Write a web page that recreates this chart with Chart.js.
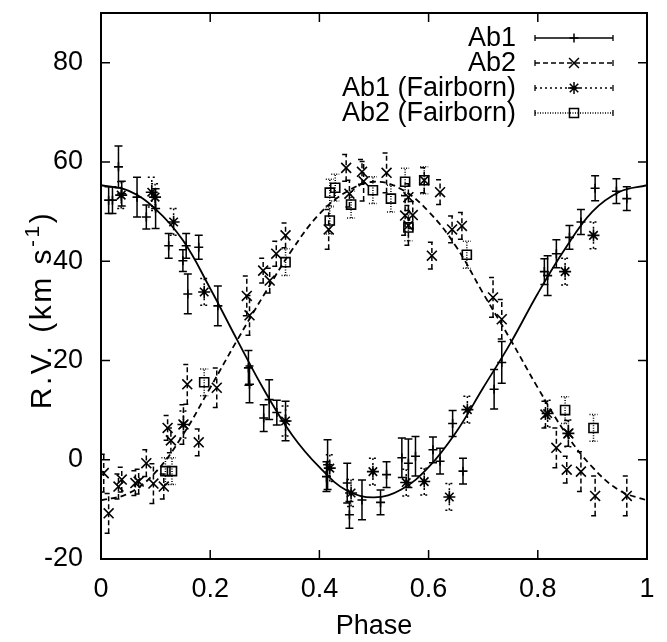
<!DOCTYPE html>
<html>
<head>
<meta charset="utf-8">
<script src="https://cdn.jsdelivr.net/npm/chart.js@4.4.1/dist/chart.umd.min.js"></script>
<style>
  html, body { margin:0; padding:0; background:#fff; }
  #wrap { width:667px; height:642px; }
</style>
</head>
<body>
<div id="wrap"><canvas id="rv" width="667" height="642"></canvas></div>
<script>
// ---- data ----
const xTickVals = [0, 0.2, 0.4, 0.6, 0.8, 1];
const xTickLabels = ['0', '0.2', '0.4', '0.6', '0.8', '1'];
const yTickVals = [-20, 0, 20, 40, 60, 80];
const yTickLabels = ['-20', '0', '20', '40', '60', '80'];

// orbit fits (read every 0.05 in phase)
const fitPhase = [0, 0.05, 0.1, 0.15, 0.2, 0.25, 0.3, 0.35, 0.4, 0.45, 0.5, 0.55, 0.6, 0.65, 0.7, 0.75, 0.8, 0.85, 0.9, 0.95, 1];
const ab1Fit = [55.3, 54.2, 50.5, 44.2, 34.5, 24.0, 13.8, 5.0, -1.5, -6.2, -7.6, -6.0, -1.5, 5.5, 14.5, 23.5, 33.5, 42.5, 50.0, 54.0, 55.3];
const ab2Fit = [-8.2, -6.8, -2.5, 5.0, 14.5, 24.2, 33.5, 42.3, 49.5, 54.0, 56.0, 54.5, 50.0, 43.0, 33.5, 24.2, 14.5, 5.5, -1.5, -6.2, -8.2];

// Ab1
const ab1Phase = [0.014, 0.021, 0.032, 0.038, 0.066, 0.083, 0.100, 0.124, 0.150, 0.156, 0.159, 0.179, 0.214, 0.270, 0.272, 0.298, 0.308, 0.322, 0.338, 0.413, 0.415, 0.451, 0.455, 0.478, 0.512, 0.523, 0.551, 0.563, 0.576, 0.608, 0.621, 0.644, 0.663, 0.720, 0.734, 0.812, 0.818, 0.834, 0.858, 0.879, 0.905, 0.944, 0.963];
const ab1Rv = [52.3, 52.3, 59.0, 53.6, 52.9, 48.9, 50.6, 43.1, 40.1, 43.1, 33.4, 42.8, 31.0, 18.5, 15.2, 8.4, 12.1, 9.5, 7.8, -3.4, -1.0, -4.7, -11.1, -8.1, -8.6, -3.0, 0.4, -0.7, 0.7, 2.0, -0.3, 7.3, -2.3, 14.2, 19.6, 37.9, 37.1, 41.5, 44.8, 47.9, 54.7, 54.1, 52.6];
const ab1Err = [2.7, 2.7, 4.2, 2.5, 4.0, 2.4, 4.0, 2.5, 2.2, 2.5, 4.0, 2.4, 4.0, 3.5, 3.7, 2.7, 4.0, 2.5, 4.0, 3.0, 5.0, 4.0, 2.7, 4.0, 2.5, 2.6, 4.0, 4.9, 4.0, 2.6, 2.6, 2.6, 2.6, 4.0, 4.2, 2.6, 4.0, 2.8, 2.4, 2.5, 2.5, 2.5, 2.4];

// Ab2
const ab2Phase = [0.005, 0.014, 0.032, 0.038, 0.063, 0.069, 0.083, 0.096, 0.115, 0.122, 0.128, 0.151, 0.158, 0.179, 0.212, 0.267, 0.272, 0.297, 0.309, 0.321, 0.338, 0.417, 0.449, 0.455, 0.478, 0.481, 0.523, 0.557, 0.563, 0.563, 0.571, 0.592, 0.606, 0.621, 0.643, 0.661, 0.718, 0.734, 0.814, 0.834, 0.853, 0.856, 0.879, 0.905, 0.963];
const ab2Rv = [-2.7, -10.8, -5.4, -4.0, -4.7, -4.4, -0.7, -4.8, -5.4, 6.4, 3.9, 7.1, 15.2, 3.5, 14.5, 33.0, 29.1, 38.1, 36.1, 41.5, 45.2, 46.4, 58.8, 53.6, 58.0, 56.1, 57.8, 49.2, 52.9, 47.2, 49.3, 56.3, 41.1, 53.9, 46.4, 47.1, 32.7, 28.3, 9.1, 2.4, -2.0, 5.3, -2.4, -7.3, -7.3];
const ab2Err = [3.8, 4.0, 2.5, 2.5, 2.5, 2.5, 2.7, 4.0, 2.5, 2.5, 2.5, 4.0, 4.0, 2.7, 4.0, 4.0, 4.0, 2.5, 2.5, 2.5, 2.5, 4.0, 2.7, 2.7, 2.5, 4.0, 4.0, 4.0, 2.7, 4.0, 2.7, 2.5, 2.7, 2.5, 2.7, 2.7, 4.0, 4.0, 2.7, 4.0, 2.7, 2.6, 4.0, 4.0, 4.0];

// Ab1 (Fairborn)
const ab1fPhase = [0.037, 0.093, 0.099, 0.133, 0.151, 0.189, 0.338, 0.419, 0.458, 0.498, 0.559, 0.592, 0.638, 0.671, 0.818, 0.850, 0.856, 0.902];
const ab1fRv = [53.3, 53.9, 52.9, 47.9, 7.1, 33.8, 7.8, -1.7, -6.7, -2.4, -4.6, -4.4, -7.5, 10.1, 9.3, 37.9, 5.3, 45.2];
const ab1fErr = [2.7, 3.0, 2.7, 2.7, 2.7, 2.7, 3.0, 2.7, 2.7, 2.7, 2.7, 2.7, 2.7, 2.7, 2.7, 2.7, 2.7, 2.7];

// Ab2 (Fairborn)
const ab2fPhase = [0.118, 0.130, 0.189, 0.338, 0.419, 0.419, 0.429, 0.458, 0.498, 0.531, 0.557, 0.563, 0.592, 0.670, 0.850, 0.902];
const ab2fRv = [-2.3, -2.3, 15.6, 39.8, 48.2, 53.8, 54.8, 51.4, 54.3, 52.6, 56.0, 46.8, 56.3, 41.3, 10.0, 6.4];
const ab2fErr = [2.7, 2.7, 2.7, 2.7, 2.7, 2.7, 2.7, 2.7, 2.7, 2.7, 2.7, 2.7, 2.7, 2.7, 2.7, 2.7];

// ---- helpers ----
const FONT = "'Liberation Sans', Arial, Helvetica, sans-serif";
function pts(xs, ys){ return xs.map((x, i) => ({ x: x, y: ys[i] })); }

function markerSet(label, xs, ys, errs, style, radius, dash){
  return {
    type: 'scatter', label: label, data: pts(xs, ys),
    errors: errs, barDash: dash,
    pointStyle: style, pointRadius: radius, pointHoverRadius: radius,
    borderColor: '#000', backgroundColor: 'rgba(0,0,0,0)', pointBorderWidth: 1.6,
    showLine: false
  };
}

// legend entries (drawn by hand, gnuplot style)
const legendRows = [
  { label: 'Ab1', dash: [], style: 'cross', r: 4.5, y: 38 },
  { label: 'Ab2', dash: [5, 3], style: 'crossRot', r: 7, y: 63 },
  { label: 'Ab1 (Fairborn)', dash: [2, 3], style: 'star', r: 6, y: 88 },
  { label: 'Ab2 (Fairborn)', dash: [1, 1.5], style: 'rect', r: 6.4, y: 113 }
];

const rvPlugin = {
  id: 'rvPlugin',
  beforeDatasetsDraw(chart){
    // error bars, from the same scales
    const ctx = chart.ctx, xs = chart.scales.x, ys = chart.scales.y, a = chart.chartArea;
    ctx.save();
    ctx.beginPath(); ctx.rect(a.left, a.top, a.right - a.left, a.bottom - a.top); ctx.clip();
    ctx.strokeStyle = '#000';
    ctx.lineWidth = 1.5;
    chart.data.datasets.forEach(ds => {
      if(!ds.errors) return;
      ctx.setLineDash(ds.barDash);
      ds.data.forEach((p, i) => {
        const px = xs.getPixelForValue(p.x);
        const y1 = ys.getPixelForValue(p.y - ds.errors[i]);
        const y2 = ys.getPixelForValue(p.y + ds.errors[i]);
        ctx.beginPath();
        ctx.moveTo(px, y1); ctx.lineTo(px, y2);
        ctx.moveTo(px - 4, y1); ctx.lineTo(px + 4, y1);
        ctx.moveTo(px - 4, y2); ctx.lineTo(px + 4, y2);
        ctx.stroke();
      });
    });
    ctx.restore();
  },
  afterDraw(chart){
    const ctx = chart.ctx, xs = chart.scales.x, ys = chart.scales.y, a = chart.chartArea;
    ctx.save();
    ctx.strokeStyle = '#000';
    ctx.setLineDash([]);
    // inward ticks, all four sides
    ctx.lineWidth = 1.5;
    ctx.beginPath();
    xTickVals.forEach(v => {
      const px = xs.getPixelForValue(v);
      ctx.moveTo(px, a.bottom); ctx.lineTo(px, a.bottom - 9);
      ctx.moveTo(px, a.top); ctx.lineTo(px, a.top + 9);
    });
    yTickVals.forEach(v => {
      const py = ys.getPixelForValue(v);
      ctx.moveTo(a.left, py); ctx.lineTo(a.left + 9, py);
      ctx.moveTo(a.right, py); ctx.lineTo(a.right - 9, py);
    });
    ctx.stroke();
    // frame
    ctx.lineWidth = 2;
    ctx.strokeRect(a.left, a.top, a.right - a.left, a.bottom - a.top);

    // legend
    ctx.fillStyle = '#000';
    ctx.font = '27px ' + FONT;
    ctx.textAlign = 'right';
    ctx.textBaseline = 'middle';
    legendRows.forEach(row => {
      ctx.fillText(row.label, 516, row.y + 1);
      ctx.lineWidth = 1.3;
      ctx.setLineDash(row.dash);
      ctx.beginPath();
      ctx.moveTo(535, row.y); ctx.lineTo(613, row.y);
      ctx.stroke();
      ctx.setLineDash([]);
      ctx.beginPath();
      ctx.moveTo(535, row.y - 3); ctx.lineTo(535, row.y + 3);
      ctx.moveTo(613, row.y - 3); ctx.lineTo(613, row.y + 3);
      ctx.stroke();
      ctx.fillStyle = 'rgba(0,0,0,0)';
      ctx.lineWidth = 1.5;
      Chart.helpers.drawPoint(ctx, { pointStyle: row.style, radius: row.r, rotation: 0, borderWidth: 1.5 }, 574, row.y);
      ctx.fillStyle = '#000';
    });

    // axis titles
    ctx.font = '27px ' + FONT;
    ctx.textAlign = 'center';
    ctx.textBaseline = 'middle';
    ctx.fillText('Phase', (a.left + a.right) / 2, 627);

    ctx.translate(51, 310);
    ctx.rotate(-Math.PI / 2);
    ctx.textAlign = 'left';
    ctx.textBaseline = 'alphabetic';
    ctx.letterSpacing = '2.5px';
    const t1 = 'R.V. (km s', t2 = '-1', t3 = ')';
    ctx.font = '30px ' + FONT; const w1 = ctx.measureText(t1).width, w3 = ctx.measureText(t3).width;
    ctx.font = '21px ' + FONT; const w2 = ctx.measureText(t2).width;
    let sx = -(w1 + w2 + w3) / 2;
    ctx.font = '30px ' + FONT; ctx.fillText(t1, sx, 0); sx += w1;
    ctx.font = '21px ' + FONT; ctx.fillText(t2, sx, -12); sx += w2;
    ctx.font = '30px ' + FONT; ctx.fillText(t3, sx, 0);
    ctx.restore();
  }
};

new Chart(document.getElementById('rv'), {
  type: 'scatter',
  data: {
    datasets: [
      { type: 'scatter', label: 'Ab1 fit', data: pts(fitPhase, ab1Fit), showLine: true, tension: 0.4,
        borderColor: '#000', borderWidth: 1.8, pointRadius: 0, fill: false },
      { type: 'scatter', label: 'Ab2 fit', data: pts(fitPhase, ab2Fit), showLine: true, tension: 0.4,
        borderColor: '#000', borderWidth: 1.8, borderDash: [6, 4], pointRadius: 0, fill: false },
      markerSet('Ab1', ab1Phase, ab1Rv, ab1Err, 'cross', 4.5, []),
      markerSet('Ab2', ab2Phase, ab2Rv, ab2Err, 'crossRot', 7, [5, 3]),
      markerSet('Ab1 (Fairborn)', ab1fPhase, ab1fRv, ab1fErr, 'star', 6, [2, 3]),
      markerSet('Ab2 (Fairborn)', ab2fPhase, ab2fRv, ab2fErr, 'rect', 6.4, [1, 1.5])
    ]
  },
  options: {
    responsive: false,
    animation: false,
    devicePixelRatio: 1,
    layout: { padding: { top: 13, right: 20, left: 0, bottom: 0 } },
    plugins: { legend: { display: false }, tooltip: { enabled: false } },
    scales: {
      x: {
        type: 'linear', min: 0, max: 1,
        grid: { display: false, drawTicks: false }, border: { display: false },
        afterBuildTicks: s => { s.ticks = xTickVals.map(v => ({ value: v })); },
        afterFit: s => { s.height = 83; s.paddingLeft = 0; s.paddingRight = 0; },
        ticks: { color: '#000', font: { family: FONT, size: 27 }, padding: 14, maxRotation: 0,
          callback: v => xTickLabels[xTickVals.indexOf(v)] }
      },
      y: {
        type: 'linear', min: -20, max: 90,
        grid: { display: false, drawTicks: false }, border: { display: false },
        afterBuildTicks: s => { s.ticks = yTickVals.map(v => ({ value: v })); },
        afterFit: s => { s.width = 101; s.paddingTop = 0; s.paddingBottom = 0; },
        ticks: { color: '#000', font: { family: FONT, size: 27 }, padding: 18,
          callback: v => yTickLabels[yTickVals.indexOf(v)] }
      }
    }
  },
  plugins: [rvPlugin]
});
</script>
</body>
</html>
